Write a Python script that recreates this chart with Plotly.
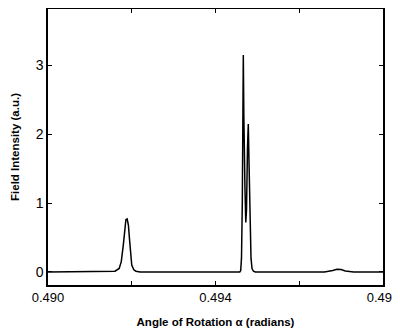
import plotly.graph_objects as go

# Angle of rotation (radians) and field intensity (a.u.)
angle = [0.4900, 0.4914, 0.4916, 0.4917, 0.49175, 0.4918, 0.49183, 0.49186,
         0.49189, 0.49192, 0.49195, 0.49198, 0.4920, 0.49205, 0.4921, 0.4922,
         0.4940, 0.49458, 0.494602, 0.494621, 0.494640, 0.494652, 0.494664,
         0.494676, 0.494688, 0.494704, 0.494723, 0.494740, 0.494764, 0.494783,
         0.494800, 0.494824, 0.494848, 0.494872, 0.494907, 0.49495,
         0.4966, 0.4968, 0.4969, 0.4970, 0.4971, 0.4973, 0.4980]
intensity = [0.0, 0.0, 0.01, 0.05, 0.15, 0.40, 0.65, 0.76,
             0.77, 0.68, 0.45, 0.22, 0.10, 0.03, 0.01, 0.0,
             0.0, 0.0, 0.02, 0.2, 1.0, 2.0, 3.15,
             2.3, 1.6, 1.2, 0.72, 0.9, 1.8, 2.15,
             1.6, 0.6, 0.2, 0.05, 0.01, 0.0,
             0.0, 0.02, 0.04, 0.035, 0.015, 0.0, 0.0]

x_tickvals = [0.490, 0.492, 0.494, 0.496, 0.498]
x_ticktext = ["0.490", "", "0.494", "", "0.498"]
y_tickvals = [0, 1, 2, 3]
y_ticktext = ["0", "1", "2", "3"]

FONT = "Liberation Sans, Arial, sans-serif"

fig = go.Figure(go.Scatter(x=angle, y=intensity, mode="lines",
                           line=dict(color="black", width=1.5)))

# the page body has an 8px margin, so the figure is sized/offset to compensate
fig.update_layout(
    width=392, height=327,
    margin=dict(l=40, r=17, t=1, b=50, autoexpand=False),
    paper_bgcolor="white", plot_bgcolor="white",
    showlegend=False,
    font=dict(family=FONT, color="black", size=14),
)
fig.update_xaxes(
    range=[0.490, 0.498], tickvals=x_tickvals, ticktext=x_ticktext,
    ticks="inside", ticklen=4, tickcolor="black", mirror="ticks",
    showline=True, linecolor="black", linewidth=1.5, showgrid=False, zeroline=False,
    tickfont=dict(size=13), ticklabeloverflow="allow",
    title=dict(text="<b>Angle of Rotation α (radians)</b>", font=dict(size=11.5), standoff=14),
    automargin=False,
)
fig.update_yaxes(
    range=[-0.19, 3.82], tickvals=y_tickvals, ticktext=y_ticktext,
    ticks="inside", ticklen=4, tickcolor="black", mirror="ticks",
    showline=True, linecolor="black", linewidth=1.5, showgrid=False, zeroline=False,
    tickfont=dict(size=14),
    title=dict(text="<b>Field Intensity (a.u.)</b>", font=dict(size=11.5), standoff=14),
    automargin=False,
)

fig.write_html("out.html")
